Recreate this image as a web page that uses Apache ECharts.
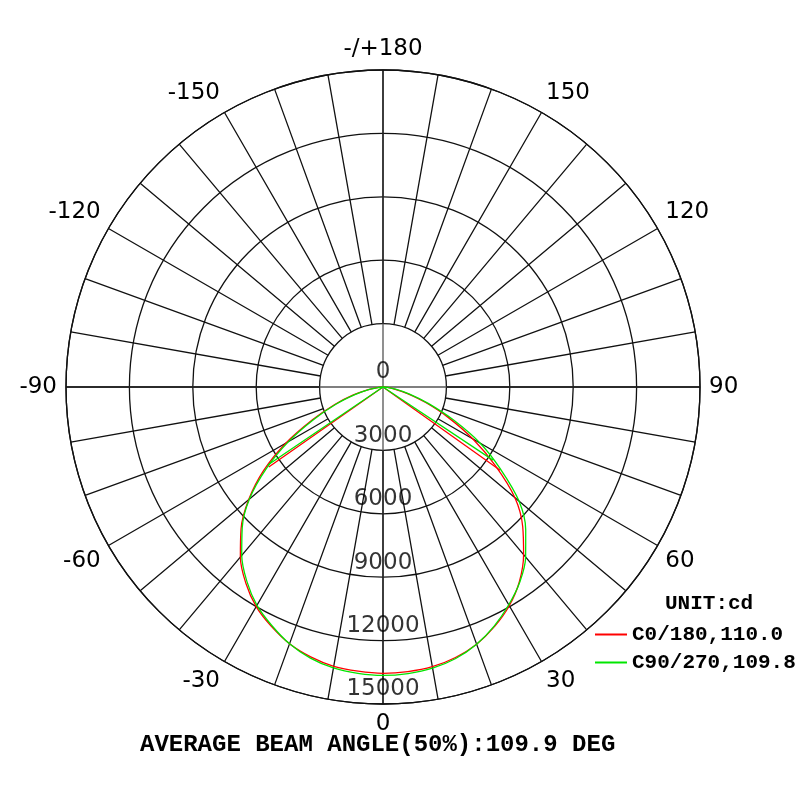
<!DOCTYPE html>
<html lang="en">
<head>
<meta charset="UTF-8">
<title>Intensity distribution</title>
<script src="https://cdn.jsdelivr.net/npm/echarts@6/dist/echarts.min.js"></script>
<style>html,body{margin:0;padding:0;background:#fff;}</style>
</head>
<body>
<div id="main" style="width:800px;height:800px;"></div>
<script>
// gamma angles (deg from nadir) and intensity per C-plane, in cd
var gammaAngles = [0, 5, 10, 15, 20, 25, 30, 35, 40, 45, 50, 55, 60, 65, 70, 75, 80, 85, 90];
var c0   = [13550, 13520, 13440, 13250, 12950, 12500, 11950, 11250, 10350, 9350, 8150, 6500, 4900, 3400, 2150, 1200, 550, 150, 0];
var c180 = [13550, 13500, 13420, 13220, 12930, 12500, 12000, 11320, 10500, 9500, 8300, 6900, 5300, 3700, 2450, 1450, 700, 200, 0];
var c90  = [13650, 13610, 13510, 13300, 12950, 12470, 11900, 11280, 10500, 9550, 8400, 6800, 5300, 3650, 2300, 1300, 600, 170, 0];
var c270 = [13650, 13600, 13500, 13280, 12930, 12450, 11930, 11230, 10400, 9420, 8250, 6750, 5150, 3600, 2350, 1350, 650, 180, 0];

// half-intensity lines: [right side, left side]
var redBeamAngles = [54.6, -55.0];
var redBeamValues = [6800, 6600];
var greenBeamAngles = [56.4, -55.9];
var greenBeamValues = [6250, 6580];

var ringValues = [0, 3000, 6000, 9000, 12000, 15000];
var seriesNames = ['C0/180,110.0', 'C90/270,109.8'];
var titleText = 'AVERAGE BEAM ANGLE(50%):109.9 DEG';
var unitText = 'UNIT:cd';

var monoFont = "'Courier New', 'Liberation Mono', monospace";
var gridColor = '#111';

function curveData(right, left) {
    var out = [];
    for (var i = gammaAngles.length - 1; i >= 1; i--) {
        out.push([left[i], 360 - gammaAngles[i]]);
    }
    out.push([right[0], 0]);
    for (var j = 1; j < gammaAngles.length; j++) {
        out.push([right[j], gammaAngles[j]]);
    }
    return out;
}

function beamData(angles, values) {
    var a0 = angles[0] < 0 ? angles[0] + 360 : angles[0];
    var a1 = angles[1] < 0 ? angles[1] + 360 : angles[1];
    return [[values[0], a0], [0, 0], [values[1], a1]];
}

var chart = echarts.init(document.getElementById('main'));

var lineBase = {
    type: 'line',
    coordinateSystem: 'polar',
    polarIndex: 0,
    symbol: 'none',
    showSymbol: false,
    animation: false
};

var option = {
    backgroundColor: '#fff',
    animation: false,
    title: [{
        text: titleText,
        left: 135,
        top: 728,
        textStyle: { fontFamily: monoFont, fontWeight: 'bold', fontSize: 24, color: '#000' }
    }, {
        text: unitText,
        left: 660,
        top: 588,
        textStyle: { fontFamily: monoFont, fontWeight: 'bold', fontSize: 21, color: '#000' }
    }],
    legend: {
        orient: 'vertical',
        left: 590,
        top: 619,
        icon: 'rect',
        itemWidth: 32,
        itemHeight: 2,
        itemGap: 7,
        data: seriesNames,
        textStyle: { fontFamily: monoFont, fontWeight: 'bold', fontSize: 21, color: '#000' }
    },
    polar: [
        { center: [383, 387], radius: [0, 317] },
        { center: [383, 387], radius: [63.4, 317] }
    ],
    angleAxis: [{
        polarIndex: 0,
        type: 'value',
        min: 0,
        max: 360,
        interval: 90,
        startAngle: 270,
        clockwise: false,
        axisLine: { show: true, lineStyle: { color: gridColor, width: 1.3 } },
        axisTick: { show: false },
        axisLabel: { show: false },
        splitLine: { show: true, lineStyle: { color: '#555', width: 1.3 } }
    }, {
        polarIndex: 1,
        type: 'value',
        min: 0,
        max: 360,
        interval: 10,
        startAngle: 270,
        clockwise: false,
        axisLine: { show: false },
        axisTick: { show: false },
        axisLabel: {
            show: true,
            margin: 9,
            color: '#000',
            fontSize: 23,
            fontFamily: 'DejaVu Sans',
            formatter: function (v) {
                if (v % 30 !== 0 || v === 360) return '';
                if (v === 180) return '-/+180';
                return v > 180 ? String(v - 360) : String(v);
            }
        },
        splitLine: { show: true, lineStyle: { color: gridColor, width: 1.3 } }
    }],
    radiusAxis: [{
        polarIndex: 0,
        type: 'value',
        min: 0,
        max: 15000,
        interval: 3000,
        axisLine: { show: false },
        axisTick: { show: false },
        axisLabel: { show: false },
        splitLine: { show: true, lineStyle: { color: gridColor, width: 1.3 } }
    }, {
        polarIndex: 1,
        type: 'value',
        min: 0,
        max: 1,
        axisLine: { show: false },
        axisTick: { show: false },
        axisLabel: { show: false },
        splitLine: { show: false }
    }],
    series: [
        Object.assign({}, lineBase, {
            name: seriesNames[0],
            data: curveData(c0, c180),
            smooth: 0.35,
            itemStyle: { color: '#ff0000' },
            lineStyle: { color: '#ff0000', width: 1.3 }
        }),
        Object.assign({}, lineBase, {
            name: 'redBeam',
            data: beamData(redBeamAngles, redBeamValues),
            itemStyle: { color: '#ff0000' },
            lineStyle: { color: '#ff0000', width: 1.3 }
        }),
        Object.assign({}, lineBase, {
            name: seriesNames[1],
            data: curveData(c90, c270),
            smooth: 0.35,
            itemStyle: { color: '#00e600' },
            lineStyle: { color: '#00e600', width: 1.3 }
        }),
        Object.assign({}, lineBase, {
            name: 'greenBeam',
            data: beamData(greenBeamAngles, greenBeamValues),
            itemStyle: { color: '#00e600' },
            lineStyle: { color: '#00e600', width: 1.3 }
        }),
        {
            type: 'scatter',
            coordinateSystem: 'polar',
            polarIndex: 0,
            symbolSize: 0,
            silent: true,
            animation: false,
            data: ringValues.map(function (v) { return [v, 0]; }),
            label: {
                show: true,
                position: 'top',
                distance: 3,
                color: '#000',
                fontSize: 23,
                fontFamily: 'DejaVu Sans',
                formatter: function (p) { return String(p.value[0]); }
            }
        }
    ]
};

chart.setOption(option);
</script>
</body>
</html>
